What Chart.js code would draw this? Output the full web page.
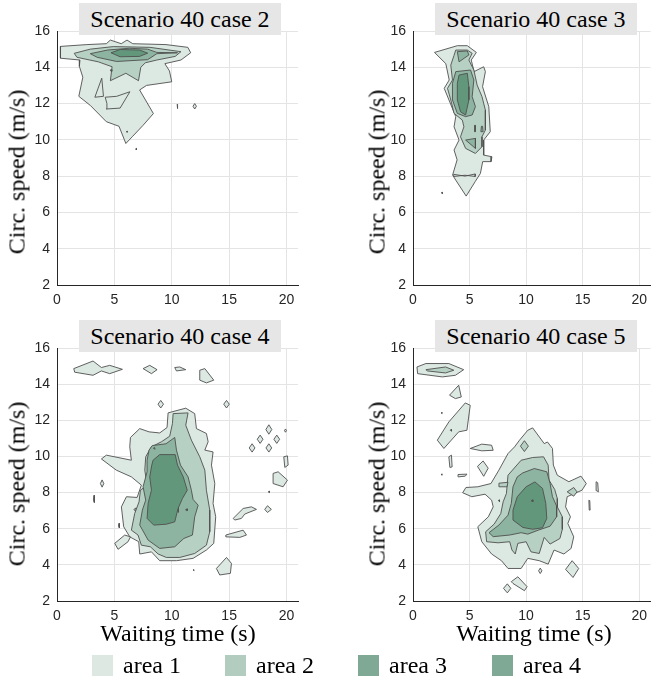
<!DOCTYPE html>
<html><head><meta charset="utf-8">
<script src="https://cdn.jsdelivr.net/npm/chart.js@4.4.1/dist/chart.umd.min.js"></script>
<style>
html,body{margin:0;padding:0;background:#fff;}
#wrap{position:relative;width:654px;height:679px;overflow:hidden;background:#fff;}
canvas{position:absolute;}
.ttl{position:absolute;background:#e6e6e6;font:24px "Liberation Serif",serif;color:#000;text-align:center;height:32px;line-height:33px;width:202px;white-space:nowrap;}
.yl{position:absolute;font:24px "Liberation Serif",serif;color:#000;white-space:nowrap;transform:translate(-50%,-50%) rotate(-90deg);}
.xl{position:absolute;font:24px "Liberation Serif",serif;color:#000;white-space:nowrap;transform:translate(-50%,-50%);}
.sw{position:absolute;width:21px;height:21px;}
.lt{position:absolute;font:24px "Liberation Serif",serif;color:#000;white-space:nowrap;line-height:24px;}
</style></head>
<body><div id="wrap"></div>
<script>
// ---------- data ----------
const xTicks = [0, 5, 10, 15, 20];
const yTicks = [2, 4, 6, 8, 10, 12, 14, 16];
const panelTitles = ['Scenario 40 case 2', 'Scenario 40 case 3', 'Scenario 40 case 4', 'Scenario 40 case 5'];
const xLabel = 'Waiting time (s)';
const yLabel = 'Circ. speed (m/s)';
const legendLabels = ['area 1', 'area 2', 'area 3', 'area 4'];
const levelColors = ['#dce8e2', '#b6d0c3', '#8db4a0', '#63977b'];
const legendColors = ['#dde8e2', '#b2cdc0', '#80a995', '#80a995'];

// contours: [level, [[x,y],...]]
const case2 = [
 [1, [[0.3,15.15],[0.3,14.5],[2.0,14.4],[1.95,14.05],[2.25,13.45],[1.9,12.4],[2.9,11.9],[4.3,11.0],[5.4,10.75],[6.0,9.8],[6.6,10.2],[7.5,10.8],[8.4,11.45],[7.2,12.75],[7.8,13.0],[10.0,13.2],[9.8,13.8],[9.4,14.2],[10.8,14.4],[11.65,14.8],[11.4,15.1],[9.5,15.25],[6.6,15.3],[6.1,15.5],[5.6,15.3],[4.65,15.5],[4.3,15.3],[2.6,15.25],[0.3,15.15]]],
 [1, [[3.3,12.35],[3.9,13.4],[4.05,12.4],[3.3,12.35]]],
 [1, [[4.2,12.35],[5.2,12.4],[6.35,12.65],[5.5,11.75],[4.3,11.7],[4.35,12.0],[4.2,12.35]]],
 [1, [[11.85,11.85],[12.0,12.0],[12.15,11.85],[12.0,11.7],[11.85,11.85]]],
 [1, [[10.47,11.97],[10.54,11.97],[10.51,11.72],[10.47,11.97]]],
 [1, [[6.05,10.45],[6.12,10.48],[6.12,10.42],[6.05,10.45]]],
 [1, [[6.85,9.5],[6.92,9.53],[6.92,9.45],[6.85,9.5]]],
 [2, [[1.5,14.77],[2.9,15.0],[4.9,15.14],[8.1,15.1],[10.8,14.86],[10.3,14.6],[8.7,14.4],[7.7,14.25],[7.3,14.0],[7.1,13.26],[6.0,13.67],[4.65,13.26],[4.8,14.03],[3.6,14.3],[1.74,14.55],[1.5,14.77]]],
 [2, [[4.62,13.82],[4.72,13.88],[4.78,13.78],[4.62,13.82]]],
 [3, [[2.9,14.75],[4.4,14.95],[6.3,15.05],[7.9,15.0],[8.7,14.82],[10.5,14.8],[8.7,14.75],[7.9,14.42],[5.2,14.32],[3.5,14.55],[2.9,14.75]]],
 [4, [[4.7,14.8],[5.5,14.98],[7.2,14.95],[7.9,14.78],[7.2,14.6],[5.5,14.58],[4.7,14.8]]]
];

const case3 = [
 [1, [[1.9,14.82],[3.92,15.19],[4.8,15.19],[5.6,14.82],[5.15,14.4],[5.4,13.76],[6.25,14.03],[6.4,13.76],[6.15,12.93],[6.7,11.83],[6.83,10.45],[6.25,9.99],[6.25,9.16],[6.98,9.07],[6.9,8.8],[6.16,8.8],[5.96,8.15],[5.5,7.7],[4.7,6.9],[3.78,7.78],[3.5,8.06],[3.9,8.9],[3.63,9.44],[4.07,9.99],[3.63,10.72],[3.78,11.28],[2.76,12.84],[3.2,13.3],[2.9,14.2],[1.9,14.82]]],
 [1, [[3.6,8.1],[4.6,8.0],[5.5,8.12],[5.5,7.98],[4.6,8.05],[3.6,7.98],[3.6,8.1]]],
 [1, [[2.5,7.08],[2.6,7.11],[2.6,7.04],[2.5,7.08]]],
 [2, [[3.78,14.95],[4.8,14.95],[5.23,14.77],[4.94,14.4],[5.38,13.85],[5.67,13.02],[6.1,12.38],[6.4,11.64],[6.4,10.54],[6.1,10.17],[6.1,9.62],[5.52,9.25],[4.65,9.53],[4.2,10.17],[4.5,10.72],[4.36,11.09],[3.63,11.46],[3.34,12.2],[3.05,12.84],[3.49,13.3],[3.34,14.12],[3.63,14.66],[3.78,14.95]]],
 [3, [[3.78,13.76],[5.09,13.85],[5.38,13.3],[5.23,12.38],[5.52,11.83],[5.23,11.37],[4.65,11.28],[3.92,11.46],[3.49,12.2],[3.49,13.12],[3.78,13.76]]],
 [3, [[3.92,14.86],[4.8,14.9],[4.94,14.68],[4.07,14.3],[3.92,14.86]]],
 [3, [[4.65,9.99],[5.52,10.08],[5.52,9.53],[4.65,9.99]]],
 [3, [[6.05,10.75],[6.15,10.75],[6.2,10.45],[6.0,10.45],[6.05,10.75]]],
 [3, [[5.45,10.8],[5.5,10.8],[5.5,10.45],[5.45,10.45],[5.45,10.8]]],
 [4, [[4.07,13.57],[4.8,13.67],[4.94,12.93],[4.94,12.2],[4.65,11.37],[4.2,11.55],[3.92,12.2],[3.92,13.12],[4.07,13.57]]]
];

const case4 = [
 [1, [[9.68,12.41],[11.22,12.67],[12.0,12.37],[12.15,11.54],[13.02,11.27],[13.17,10.81],[12.88,10.35],[13.6,10.25],[13.46,9.52],[13.75,8.5],[13.6,7.4],[13.83,6.66],[13.66,5.19],[13.02,4.82],[11.86,4.36],[10.41,4.23],[8.95,4.23],[8.23,4.72],[7.21,4.6],[7.12,5.28],[6.34,5.55],[5.81,6.11],[5.61,7.21],[6.05,7.77],[6.98,7.73],[7.35,8.41],[6.48,8.87],[5.17,9.24],[3.87,9.86],[4.3,10.07],[5.32,9.94],[6.48,9.79],[6.34,10.53],[6.4,11.05],[7.21,11.54],[8.02,11.36],[8.95,11.3],[9.59,11.6],[9.68,12.41]]],
 [1, [[1.46,14.86],[3.14,15.28],[3.87,14.92],[4.59,15.04],[5.7,14.82],[4.59,14.58],[3.87,14.73],[3.14,14.49],[1.54,14.66],[1.46,14.86]]],
 [1, [[7.5,14.86],[8.08,15.04],[8.72,14.8],[8.23,14.58],[7.5,14.86]]],
 [1, [[10.26,14.92],[10.7,14.95],[11.22,14.8],[10.41,14.73],[10.26,14.92]]],
 [1, [[12.44,14.77],[12.88,14.86],[13.66,14.22],[13.02,14.07],[12.44,14.22],[12.44,14.77]]],
 [1, [[8.8,12.89],[9.04,13.1],[9.28,12.89],[9.04,12.68],[8.8,12.89]]],
 [1, [[14.53,12.89],[14.77,13.1],[15.01,12.89],[14.77,12.68],[14.53,12.89]]],
 [1, [[18.2,11.49],[18.46,11.75],[18.72,11.49],[18.46,11.23],[18.2,11.49]]],
 [1, [[17.45,10.95],[17.7,11.18],[17.95,10.95],[17.7,10.72],[17.45,10.95]]],
 [1, [[18.9,10.95],[19.15,11.18],[19.4,10.95],[19.15,10.72],[18.9,10.95]]],
 [1, [[16.75,10.47],[17.0,10.7],[17.25,10.47],[17.0,10.24],[16.75,10.47]]],
 [1, [[18.21,10.47],[18.46,10.7],[18.71,10.47],[18.46,10.24],[18.21,10.47]]],
 [1, [[19.82,11.43],[19.91,11.52],[20.0,11.43],[19.91,11.34],[19.82,11.43]]],
 [1, [[19.76,9.98],[20.08,10.03],[20.14,9.52],[19.85,9.39],[19.76,9.98]]],
 [1, [[18.83,9.06],[19.27,9.15],[20.08,8.69],[19.7,8.32],[18.83,8.5],[18.83,9.06]]],
 [1, [[18.42,8.04],[18.5,8.08],[18.5,8.0],[18.42,8.04]]],
 [1, [[18.1,7.07],[18.34,7.27],[18.68,7.07],[18.34,6.9],[18.1,7.07]]],
 [1, [[15.35,6.57],[16.22,7.12],[16.94,7.21],[17.38,7.07],[16.36,6.81],[16.07,6.57],[15.49,6.48],[15.35,6.57]]],
 [1, [[14.71,5.65],[16.22,5.92],[16.51,5.65],[15.93,5.52],[14.71,5.55],[14.71,5.65]]],
 [1, [[13.89,3.8],[14.77,4.41],[15.2,4.08],[15.11,3.53],[14.18,3.44],[13.89,3.8]]],
 [1, [[11.85,3.71],[11.92,3.75],[11.95,3.68],[11.85,3.71]]],
 [1, [[3.78,8.5],[3.93,8.7],[4.08,8.5],[3.93,8.3],[3.78,8.5]]],
 [1, [[3.18,7.6],[3.23,7.85],[3.28,7.6],[3.23,7.45],[3.18,7.6]]],
 [1, [[5.36,6.16],[5.41,6.3],[5.46,6.16],[5.41,6.05],[5.36,6.16]]],
 [1, [[5.03,5.19],[5.9,5.65],[6.4,5.55],[6.19,5.28],[5.32,4.86],[5.03,5.19]]],
 [1, [[6.7,7.07],[6.9,7.15],[6.85,6.95],[6.7,7.07]]],
 [2, [[10.12,12.37],[11.42,12.41],[11.22,11.73],[11.71,10.9],[12.44,9.98],[12.88,9.24],[13.02,8.13],[13.31,7.03],[13.31,5.83],[13.02,5.09],[12.0,4.63],[10.7,4.41],[9.53,4.41],[8.81,4.6],[8.14,5.0],[7.35,5.09],[7.06,5.65],[6.48,5.92],[6.77,6.84],[7.15,7.49],[7.27,8.13],[7.85,8.41],[7.65,9.24],[7.73,9.98],[8.23,10.53],[9.1,10.81],[9.82,11.12],[10.06,11.82],[10.12,12.37]]],
 [3, [[8.02,10.35],[8.3,10.6],[9.5,10.7],[10.26,11.05],[10.41,10.35],[10.76,9.52],[11.42,8.87],[11.71,8.13],[11.86,7.62],[12.3,7.3],[12.0,6.66],[11.8,5.65],[11.05,5.46],[10.26,5.0],[8.95,4.91],[7.94,5.37],[7.21,6.2],[7.44,7.03],[7.73,7.58],[7.5,8.32],[7.85,9.15],[7.85,9.79],[8.02,10.35]]],
 [3, [[8.4,10.45],[8.5,10.5],[8.55,10.4],[8.4,10.45]]],
 [4, [[8.37,9.79],[8.95,10.1],[10.3,10.1],[10.5,9.52],[11.0,8.87],[11.35,8.13],[10.93,7.67],[10.55,7.12],[10.26,6.38],[9.53,6.25],[8.43,6.2],[7.85,6.57],[7.94,7.4],[8.23,8.13],[8.08,8.87],[8.26,9.52],[8.37,9.79]]],
 [3, [[9.55,8.5],[9.77,8.75],[9.99,8.5],[9.77,8.25],[9.55,8.5]]],
 [3, [[10.55,7.2],[10.6,7.2],[10.62,6.9],[10.55,6.9],[10.55,7.2]]],
 [3, [[11.2,7.05],[11.35,7.1],[11.35,7.0],[11.2,7.05]]]
];

const case5 = [
 [1, [[9.42,10.9],[10.15,11.45],[10.58,11.58],[11.6,10.71],[11.89,10.8],[12.33,10.44],[12.41,9.52],[12.76,8.96],[13.78,8.6],[14.85,8.91],[15.32,8.5],[14.94,8.13],[13.63,7.77],[13.49,7.21],[13.92,6.66],[13.69,6.29],[14.21,5.55],[13.98,4.91],[13.34,4.6],[12.47,4.82],[11.95,4.04],[11.16,4.23],[10.15,4.36],[9.56,3.8],[8.4,3.8],[7.82,4.23],[6.95,4.6],[6.08,5.28],[5.73,6.11],[6.66,6.66],[7.09,7.21],[6.95,7.58],[6.37,7.91],[5.2,7.77],[4.39,7.99],[4.68,8.28],[5.73,8.32],[6.89,8.5],[7.59,9.24],[8.4,10.16],[8.98,10.53],[9.42,10.9]]],
 [1, [[0.35,14.95],[1.14,15.14],[3.17,15.14],[4.48,14.8],[3.75,14.49],[2.59,14.4],[0.41,14.58],[0.35,14.95]]],
 [1, [[3.23,13.39],[4.04,13.94],[4.27,13.29],[3.75,13.2],[3.23,13.39]]],
 [1, [[2.15,10.9],[3.17,11.91],[4.62,12.96],[5.06,12.83],[4.77,11.45],[4.04,11.36],[2.73,10.44],[2.15,10.9]]],
 [1, [[2.48,12.41],[2.56,12.45],[2.58,12.37],[2.48,12.41]]],
 [1, [[5.06,10.44],[6.08,10.68],[6.95,10.62],[7.09,10.34],[6.08,10.31],[5.06,10.44]]],
 [1, [[3.17,9.98],[3.4,10.07],[3.46,9.42],[3.26,9.39],[3.17,9.98]]],
 [1, [[2.48,9.0],[2.56,9.04],[2.58,8.96],[2.48,9.0]]],
 [1, [[3.98,9.0],[4.77,9.02],[4.62,8.91],[4.04,8.87],[3.98,9.0]]],
 [1, [[5.7,9.45],[6.2,9.75],[6.65,9.35],[6.25,8.9],[5.7,9.45]]],
 [1, [[16.19,8.6],[16.33,8.54],[16.39,8.04],[16.25,8.1],[16.19,8.6]]],
 [1, [[15.55,7.58],[15.63,7.55],[15.66,7.03],[15.58,7.03],[15.55,7.58]]],
 [1, [[14.07,4.23],[14.65,3.8],[14.15,3.3],[13.49,3.75],[14.07,4.23]]],
 [1, [[11.1,3.67],[11.25,3.82],[11.4,3.67],[11.25,3.52],[11.1,3.67]]],
 [1, [[8.69,3.07],[9.27,3.34],[10.09,2.79],[9.85,2.57],[8.84,2.97],[8.69,3.07]]],
 [1, [[8.0,2.7],[8.34,2.95],[8.65,2.7],[8.34,2.45],[8.0,2.7]]],
 [2, [[1.14,14.8],[2.88,14.95],[3.61,14.77],[2.88,14.62],[1.28,14.73],[1.14,14.8]]],
 [2, [[3.3,11.45],[3.38,11.5],[3.4,11.4],[3.3,11.45]]],
 [2, [[8.4,8.96],[9.56,9.79],[10.58,9.94],[11.54,9.98],[11.95,9.52],[12.03,8.69],[12.53,8.17],[12.76,7.67],[12.76,7.21],[13.2,6.66],[13.2,5.96],[12.99,5.46],[12.12,5.15],[11.6,5.52],[11.16,4.63],[10.43,4.72],[10.0,5.28],[9.27,5.19],[9.04,4.6],[8.75,4.82],[8.55,5.28],[7.53,5.22],[6.51,5.28],[6.42,5.83],[7.18,6.26],[7.76,6.84],[7.97,7.49],[8.26,7.95],[8.4,8.96]]],
 [2, [[9.5,10.57],[9.85,10.87],[10.2,10.57],[9.85,10.27],[9.5,10.57]]],
 [2, [[13.63,8.04],[14.21,8.28],[14.5,8.04],[14.21,7.8],[13.63,8.04]]],
 [2, [[7.6,8.52],[8.4,8.57],[8.3,8.32],[7.6,8.32],[7.6,8.52]]],
 [2, [[7.55,7.55],[7.62,7.6],[7.65,7.5],[7.55,7.55]]],
 [3, [[9.71,9.09],[10.73,9.33],[11.83,9.15],[12.12,8.5],[12.33,7.77],[12.7,7.25],[12.7,6.66],[12.12,6.14],[11.08,5.92],[10.15,5.7],[9.56,5.78],[8.55,5.65],[7.09,5.56],[6.72,5.78],[7.59,6.2],[8.4,6.75],[8.69,7.4],[8.84,8.32],[9.22,8.87],[9.71,9.09]]],
 [4, [[10.0,8.32],[10.78,8.59],[11.45,8.23],[11.74,7.4],[11.83,6.57],[11.45,6.05],[10.58,5.97],[9.71,6.07],[8.84,6.48],[8.84,7.03],[9.22,7.77],[10.0,8.32]]],
 [4, [[10.45,7.54],[10.55,7.6],[10.6,7.5],[10.45,7.54]]]
];

// ---------- layout (px) ----------
const panels = [
 {data: case2, left: 0,   top: 0,   w: 327, h: 310, padTop: 31, padRight: 29, yW: 57, xH: 25, title: [79, 3],   yl: [17, 172],  xl: null},
 {data: case3, left: 327, top: 0,   w: 327, h: 310, padTop: 31, padRight: 0,  yW: 86, xH: 25, title: [435, 3],  yl: [377, 172], xl: null},
 {data: case4, left: 0,   top: 310, w: 327, h: 315, padTop: 38, padRight: 29, yW: 57, xH: 24, title: [79, 320], yl: [17, 484],  xl: [178, 633]},
 {data: case5, left: 327, top: 310, w: 327, h: 315, padTop: 38, padRight: 0,  yW: 86, xH: 24, title: [435, 320],yl: [377, 484], xl: [534, 633]}
];

const wrap = document.getElementById('wrap');
function el(tag, cls, css, text) {
  const e = document.createElement(tag);
  if (cls) e.className = cls;
  Object.assign(e.style, css);
  if (text != null) e.textContent = text;
  wrap.appendChild(e);
  return e;
}

panels.forEach((p, pi) => {
  const c = el('canvas', null, {left: p.left + 'px', top: p.top + 'px', width: p.w + 'px', height: p.h + 'px'});
  c.width = p.w; c.height = p.h;
  const datasets = p.data.map((entry, i) => {
    const lvl = entry[0];
    return {
      data: entry[1].map(q => ({x: q[0], y: q[1]})),
      backgroundColor: levelColors[lvl - 1],
      borderColor: '#4f4f4f',
      borderWidth: 0.9,
      fill: 'shape',
      pointRadius: 0,
      tension: 0,
      order: 10 - lvl - i * 0.001
    };
  });
  new Chart(c, {
    type: 'line',
    data: {datasets},
    options: {
      responsive: false, animation: false, events: [],
      devicePixelRatio: 1,
      layout: {padding: {top: p.padTop, right: p.padRight, left: 0, bottom: 0}},
      plugins: {legend: {display: false}, tooltip: {enabled: false}, title: {display: false}},
      scales: {
        x: {
          type: 'linear', min: 0, max: 21,
          afterBuildTicks: s => { s.ticks = xTicks.map(v => ({value: v})); },
          afterFit: s => { s.height = p.xH; },
          grid: {color: '#e4e4e4', lineWidth: 1, drawTicks: false},
          border: {display: true, color: '#262626', width: 1},
          ticks: {padding: 7, color: '#262626', font: {family: '"Liberation Sans", Arial, sans-serif', size: 14}, maxRotation: 0}
        },
        y: {
          type: 'linear', min: 2, max: 16,
          afterBuildTicks: s => { s.ticks = yTicks.map(v => ({value: v})); },
          afterFit: s => { s.width = p.yW; },
          grid: {color: '#e4e4e4', lineWidth: 1, drawTicks: false},
          border: {display: true, color: '#262626', width: 1},
          ticks: {padding: 7, color: '#262626', font: {family: '"Liberation Sans", Arial, sans-serif', size: 14}}
        }
      }
    }
  });
  el('div', 'ttl', {left: p.title[0] + 'px', top: p.title[1] + 'px'}, panelTitles[pi]);
  el('div', 'yl', {left: p.yl[0] + 'px', top: p.yl[1] + 'px'}, yLabel);
  if (p.xl) el('div', 'xl', {left: p.xl[0] + 'px', top: p.xl[1] + 'px'}, xLabel);
});

// legend
const legX = [92, 225, 358, 492];
legendLabels.forEach((lab, i) => {
  el('div', 'sw', {left: legX[i] + 'px', top: '655px', background: legendColors[i]});
  el('div', 'lt', {left: (legX[i] + 31) + 'px', top: '653px'}, lab);
});
</script>
</body></html>
